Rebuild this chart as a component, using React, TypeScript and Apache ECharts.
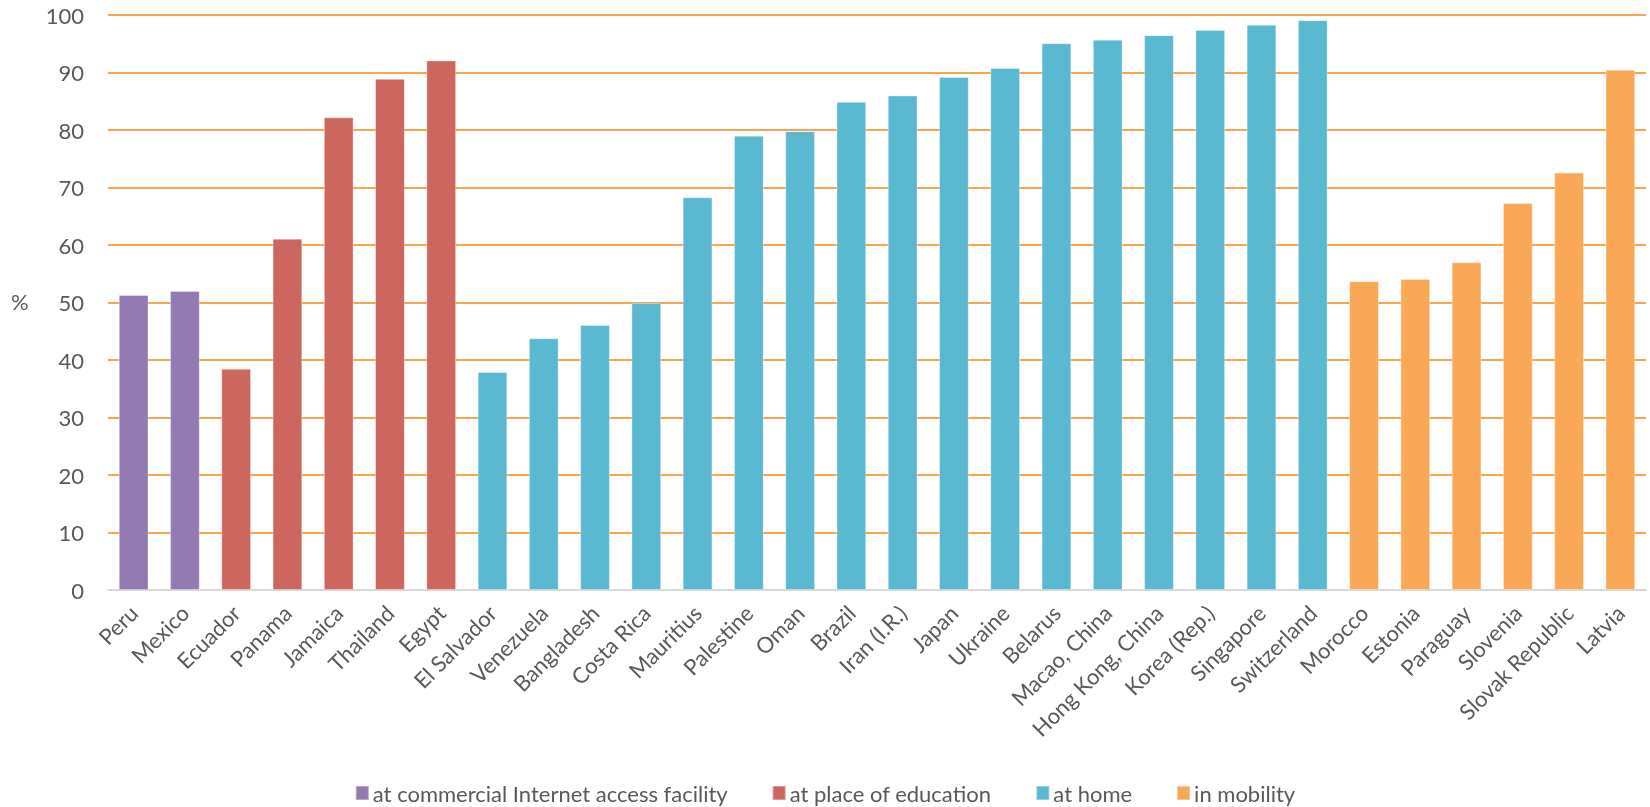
import React, { useEffect, useRef } from "react";
import * as echarts from "echarts";

const commercialCountries = ["Peru", "Mexico"];
const commercialValues = [51.3, 52.0];
const educationCountries = ["Ecuador", "Panama", "Jamaica", "Thailand", "Egypt"];
const educationValues = [38.5, 61.1, 82.2, 88.9, 92.1];
const homeCountries = [
  "El Salvador", "Venezuela", "Bangladesh", "Costa Rica", "Mauritius", "Palestine", "Oman",
  "Brazil", "Iran (I.R.)", "Japan", "Ukraine", "Belarus", "Macao, China", "Hong Kong, China",
  "Korea (Rep.)", "Singapore", "Switzerland",
];
const homeValues = [37.9, 43.8, 46.1, 49.9, 68.3, 79.0, 79.8, 84.9, 86.0, 89.2, 90.8, 95.1, 95.7, 96.5, 97.4, 98.3, 99.1];
const mobilityCountries = ["Morocco", "Estonia", "Paraguay", "Slovenia", "Slovak Republic", "Latvia"];
const mobilityValues = [53.7, 54.1, 57.0, 67.3, 72.6, 90.5];

const seriesNames = [
  "at commercial Internet access facility",
  "at place of education",
  "at home",
  "in mobility",
];
const seriesColors = ["#937AB1", "#CC665F", "#5BB8D1", "#F9A857"];
const yTicks = { min: 0, max: 100, interval: 10 };

const groups = [
  { countries: commercialCountries, values: commercialValues },
  { countries: educationCountries, values: educationValues },
  { countries: homeCountries, values: homeValues },
  { countries: mobilityCountries, values: mobilityValues },
];

const categories: string[] = groups.flatMap((g) => g.countries);

const FONT = "Lato, 'Open Sans', sans-serif";
const TEXT = "#595959";

export default function App() {
  const ref = useRef<HTMLDivElement>(null);
  useEffect(() => {
    if (!ref.current) return;
    const chart = echarts.init(ref.current, null, { renderer: "svg" });
    const series = groups.map((g, gi) => {
      const data = categories.map((c) => {
        const idx = g.countries.indexOf(c);
        return idx >= 0 ? g.values[idx] : null;
      });
      return {
        name: seriesNames[gi],
        type: "bar",
        stack: "all",
        data,
        barCategoryGap: "42%",
        itemStyle: {
          color: seriesColors[gi],
          borderColor: "rgba(255,255,255,0.35)",
          borderWidth: 1,
        },
      };
    });
    chart.setOption({
      animation: false,
      textStyle: { fontFamily: FONT },
      grid: { left: 108, right: 4, top: 15, bottom: 217, containLabel: false },
      legend: {
        top: 782,
        left: "center",
        padding: 0,
        itemWidth: 13,
        itemHeight: 14,
        itemGap: 44,
        icon: "rect",
        textStyle: { fontSize: 22, color: TEXT, fontFamily: FONT, padding: [0, 0, 0, -1] },
        data: seriesNames,
      },
      xAxis: {
        type: "category",
        data: categories,
        axisTick: { show: false },
        axisLine: { lineStyle: { color: "#D9D9D9", width: 2 } },
        axisLabel: {
          interval: 0,
          rotate: 45,
          margin: 19,
          fontSize: 22,
          color: TEXT,
          fontFamily: FONT,
        },
      },
      yAxis: {
        type: "value",
        min: yTicks.min,
        max: yTicks.max,
        interval: yTicks.interval,
        axisLine: { show: false },
        axisTick: { show: false },
        axisLabel: { fontSize: 22, color: TEXT, margin: 24, fontFamily: FONT },
        splitLine: { lineStyle: { color: "#F9A54F", width: 2 } },
      },
      graphic: [
        {
          type: "text",
          left: 11,
          top: 290,
          style: { text: "%", fontSize: 22, fill: TEXT, fontFamily: FONT },
        },
      ],
      series,
    });
    return () => chart.dispose();
  }, []);
  return (
    <div
      ref={ref}
      style={{ position: "fixed", left: 0, top: 0, width: 1650, height: 807 }}
    />
  );
}
